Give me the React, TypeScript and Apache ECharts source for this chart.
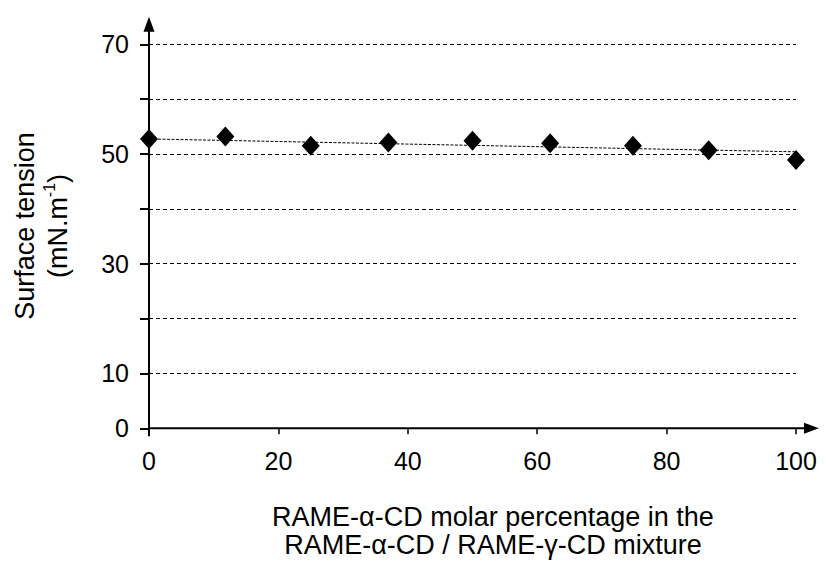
import React, { useEffect, useRef } from "react";
import * as echarts from "echarts";

const xValues = [0, 11.8, 25, 37, 50, 62, 74.8, 86.5, 100];
const tensionValues = [52.75, 53.2, 51.5, 52.1, 52.4, 51.95, 51.5, 50.7, 48.9];
const trendX = [0, 100];
const trendY = [52.75, 50.4];
const yLabelValues = [0, 10, 30, 50, 70];
const xTitle = ["RAME-\u03b1-CD molar percentage in the", "RAME-\u03b1-CD / RAME-\u03b3-CD mixture"];
const yTitle1 = "Surface tension";

const FONT = "'Liberation Sans', Arial, Helvetica, sans-serif";

export default function App() {
  const ref = useRef<HTMLDivElement>(null);
  useEffect(() => {
    document.body.style.margin = "0";
    const el = ref.current!;
    const chart = echarts.init(el, null, { renderer: "svg" });
    const option: any = {
      animation: false,
      backgroundColor: "#ffffff",
      grid: { left: 149, right: 30, top: 44.3, bottom: 134.7, containLabel: false },
      xAxis: {
        type: "value",
        min: 0,
        max: 100,
        interval: 20,
        axisLine: { show: false },
        axisTick: { show: true, inside: false, length: 6, lineStyle: { color: "#000", width: 1.5 } },
        axisLabel: { color: "#000", fontSize: 25, lineHeight: 25, fontFamily: FONT, margin: 20 },
        splitLine: { show: false },
      },
      yAxis: {
        type: "value",
        min: 0,
        max: 70,
        interval: 10,
        axisLine: { show: false },
        axisTick: { show: true, inside: false, length: 9, lineStyle: { color: "#000", width: 2 } },
        axisLabel: {
          color: "#000",
          fontSize: 25,
          fontFamily: FONT,
          margin: 20,
          formatter: (v: number) => (yLabelValues.indexOf(v) >= 0 ? String(v) : ""),
        },
        splitLine: { show: true, lineStyle: { color: "#000", width: 1, type: [4, 3] } },
      },
      series: [
        {
          type: "line",
          data: trendX.map((x, i) => [x, trendY[i]]),
          symbol: "none",
          lineStyle: { color: "#000", width: 1, type: [3, 1.5] },
          z: 2,
          silent: true,
        },
        {
          type: "scatter",
          data: xValues.map((x, i) => [x, tensionValues[i]]),
          symbol: "diamond",
          symbolSize: [18, 20],
          itemStyle: { color: "#000", opacity: 1 },
          z: 3,
        },
      ],
    };
    chart.setOption(option);
    const o = chart.convertToPixel({ gridIndex: 0 }, [0, 0]) as number[];
    const t = chart.convertToPixel({ gridIndex: 0 }, [0, 70]) as number[];
    const r = chart.convertToPixel({ gridIndex: 0 }, [100, 0]) as number[];
    const yTip = t[1] - 27.6;
    const xTip = r[0] + 23;
    chart.setOption({
      graphic: [
        { type: "line", z: 10, shape: { x1: o[0], y1: o[1] + 8, x2: o[0], y2: yTip + 6 }, style: { stroke: "#000", lineWidth: 2 } },
        { type: "polygon", z: 10, shape: { points: [[o[0], yTip], [o[0] - 5.5, yTip + 15], [o[0] + 5.5, yTip + 15]] }, style: { fill: "#000" } },
        { type: "line", z: 10, shape: { x1: o[0], y1: o[1], x2: xTip - 6, y2: o[1] }, style: { stroke: "#000", lineWidth: 2 } },
        { type: "polygon", z: 10, shape: { points: [[xTip, o[1]], [xTip - 15, o[1] - 5.5], [xTip - 15, o[1] + 5.5]] }, style: { fill: "#000" } },
        {
          type: "text",
          z: 10,
          x: 493,
          y: 531,
          style: {
            text: xTitle.join("\n"),
            fill: "#000",
            font: `27px ${FONT}`,
            lineHeight: 28.5,
            align: "center",
            verticalAlign: "middle",
          },
        },
        {
          type: "text",
          z: 10,
          x: 25,
          y: 226,
          rotation: Math.PI / 2,
          style: { text: yTitle1, fill: "#000", font: `27px ${FONT}`, align: "center", verticalAlign: "middle" },
        },
        {
          type: "text",
          z: 10,
          x: 56,
          y: 226,
          rotation: Math.PI / 2,
          style: {
            text: "{a|(mN.m}{s|-1}{a|)}",
            fill: "#000",
            align: "center",
            verticalAlign: "middle",
            rich: {
              a: { fontSize: 27, fontFamily: FONT, fill: "#000", lineHeight: 30, verticalAlign: "bottom" },
              s: { fontSize: 16, fontFamily: FONT, fill: "#000", lineHeight: 16, verticalAlign: "top" },
            },
          },
        },
      ],
    });
    return () => chart.dispose();
  }, []);
  return <div ref={ref} style={{ width: 826, height: 563 }} />;
}
